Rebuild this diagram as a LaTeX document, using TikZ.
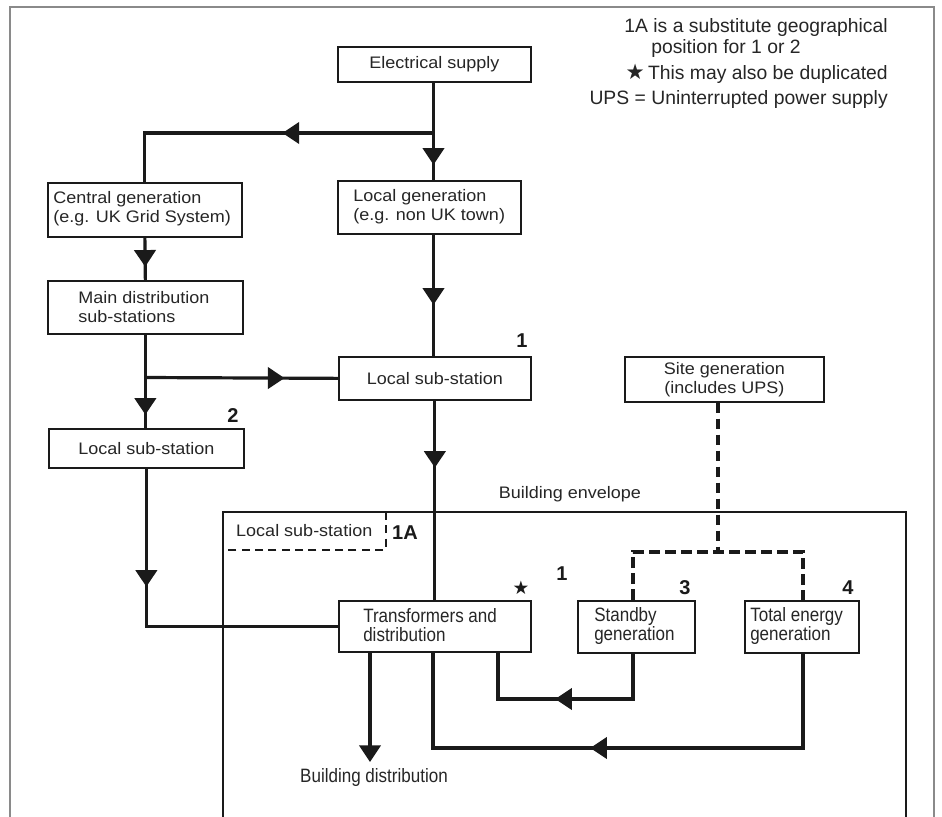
\documentclass[tikz,border=0pt]{standalone}
\usepackage{fontspec}
\setmainfont{Liberation Sans}
\newfontfamily\boxf[FakeStretch=1.08]{Liberation Sans}
\newfontfamily\condf[FakeStretch=0.88]{Liberation Sans}
\newfontfamily\symf{DejaVu Sans}
\usetikzlibrary{arrows.meta,decorations.markings}
\definecolor{ink}{HTML}{1A1A1A}
\definecolor{txt}{HTML}{262626}
\definecolor{framec}{HTML}{8A8A8A}
\begin{document}
\begin{tikzpicture}[x=0.75pt,y=-0.75pt,
  bx/.style n args={2}{draw=ink, line width=1.3pt, fill=white, inner sep=0pt, anchor=north west,
     minimum width=#1*0.75pt, minimum height=#2*0.75pt, text=txt,
     font=\boxf\fontsize{12.5}{14.5}\selectfont, align=center},
  conn/.style={draw=ink, line width=2.4pt},
  dconn/.style={draw=ink, line width=3pt, dash pattern=on 8pt off 4pt},
  tri/.tip={Triangle[length=12.5pt,width=16pt]},
  arrowat/.style={postaction={decorate,decoration={markings,mark=at position #1 with {\arrow{tri}}}}},
  lbl/.style={text=txt, font=\boxf\fontsize{12.5}{14.5}\selectfont, align=left, inner sep=0pt, anchor=west},
  clbl/.style={text=txt, font=\condf\fontsize{14.5}{14}\selectfont, align=left, inner sep=0pt, anchor=west},
  num/.style={text=ink, font=\bfseries\fontsize{15}{18}\selectfont, inner sep=0pt},
  note/.style={text=txt, font=\fontsize{14.5}{18}\selectfont, inner sep=0pt},
]
\fill[white] (0,0) rectangle (942,817);
\useasboundingbox (0,0) rectangle (942,817);
% outer frame
\draw[framec, line width=1pt] (10,817) -- (10,7) -- (934,7) -- (934,817);
% building envelope
\draw[ink, line width=0.9pt] (223,817) -- (223,512) -- (906,512) -- (906,817);
\node[text=txt, font=\boxf\fontsize{12.5}{14.5}\selectfont, inner sep=0pt] (be) at (570,494) {Building envelope};

% notes
\node[note, anchor=east] (nt1) at (888,28) {1A is a substitute geographical};
\node[note, anchor=west] (nt2) at (651,49) {position for 1 or 2};
\node[note, anchor=east] (nt3) at (888,74) {{\symf\fontsize{16}{16}\selectfont ★}\,This may also be duplicated};
\node[note, anchor=east] (nt4) at (888,100) {UPS = Uninterrupted power supply};

% boxes
\node[bx={193}{35}] (sup) at (337,46) {Electrical supply};
\node[bx={183}{53}] (lg) at (337,180) {};
\node[lbl] (lgt) at (353,207) {Local generation\\(e.g. non UK town)};
\node[bx={194}{54}] (cg) at (47,182) {};
\node[lbl] (cgt) at (53,209) {Central generation\\(e.g. UK Grid System)};
\node[bx={195}{53}] (md) at (47,280) {};
\node[lbl] (mdt) at (78,307) {Main distribution\\sub-stations};
\node[bx={195}{39}] (ls2) at (48,428) {Local sub-station};
\node[bx={192}{43}] (ls1) at (338,356) {Local sub-station};
\node[bx={199}{45}] (sg) at (624,356) {Site generation\\(includes UPS)};
\node[bx={192}{51}] (tr) at (338,600) {};
\node[clbl] (trt) at (363,625) {Transformers and\\distribution};
\node[bx={117}{52}] (sb) at (577,600) {};
\node[clbl] (sbt) at (594,626) {Standby\\generation};
\node[bx={114}{52}] (te) at (744,600) {};
\node[clbl] (tet) at (750,626) {Total energy\\generation};

% substitute local sub-station (dashed)
\node[inner sep=0pt, anchor=north west, minimum width=162*0.75pt, minimum height=37*0.75pt,
      text=txt, font=\boxf\fontsize{12.5}{14.5}\selectfont] (ls1a) at (223,512) {Local sub-station};
\draw[ink, line width=1.5pt, dash pattern=on 6pt off 4pt] (ls1a.north east) |- (ls1a.south west);

% connectors
\coordinate (j1) at (433.5,133);
\coordinate (j2) at (144.5,377.5);
\draw[conn, arrowat=61.5pt] (sup.south -| j1) -- (j1 |- lg.north);
\draw[conn, arrowat=113.25pt] (j1) -| (cg.north);
\draw[conn, arrowat=21.75pt] (cg.south) -- (md.north);
\draw[conn, arrowat=52.5pt] (j1 |- lg.south) -- (j1 |- ls1.north);
\draw[conn, arrowat=60pt] (md.south) -- (md.south |- ls2.north);
\draw[conn, arrowat=105pt] (j2) -- (ls1.west);
\draw[conn, arrowat=50.25pt] (ls1.south) -- (tr.north);
\draw[conn, arrowat=88.5pt] (ls2.south) |- (tr.west);

\coordinate (bd) at (370,762);
\draw[conn, -{tri}] (tr.south -| bd) -- (bd);
\node[clbl, anchor=center] (bdt) at (374,777) {Building distribution};

\coordinate (l1) at (633,699);
\coordinate (l1b) at (498,699);
\draw[conn, arrowat=92.25pt] (sb.south -| l1) -- (l1) -- (l1b) -- (l1b |- tr.south);
\coordinate (l2) at (803,748);
\coordinate (l2b) at (433,748);
\draw[conn, arrowat=230.25pt] (te.south -| l2) -- (l2) -- (l2b) -- (l2b |- tr.south);

% dashed site generation links
\coordinate (dj) at (718,552);
\coordinate (dl) at (633,552);
\coordinate (dr) at (803,552);
\draw[dconn] (sg.south -| dj) -- (dj);
\draw[dconn] (sb.north -| dl) -- (dl) -- (dr) -- (te.north -| dr);

% numbers
\node[num] (n1) at (522,341) {1};
\node[num] (n2) at (233,416) {2};
\node[num] (n1a) at (405,533) {1A};
\node[text=ink, font=\symf\fontsize{14}{14}\selectfont, inner sep=0pt] (st) at (521,588) {★};
\node[num] (n1b) at (562,574) {1};
\node[num] (n3) at (685,588) {3};
\node[num] (n4) at (848,588) {4};
\end{tikzpicture}
\end{document}
